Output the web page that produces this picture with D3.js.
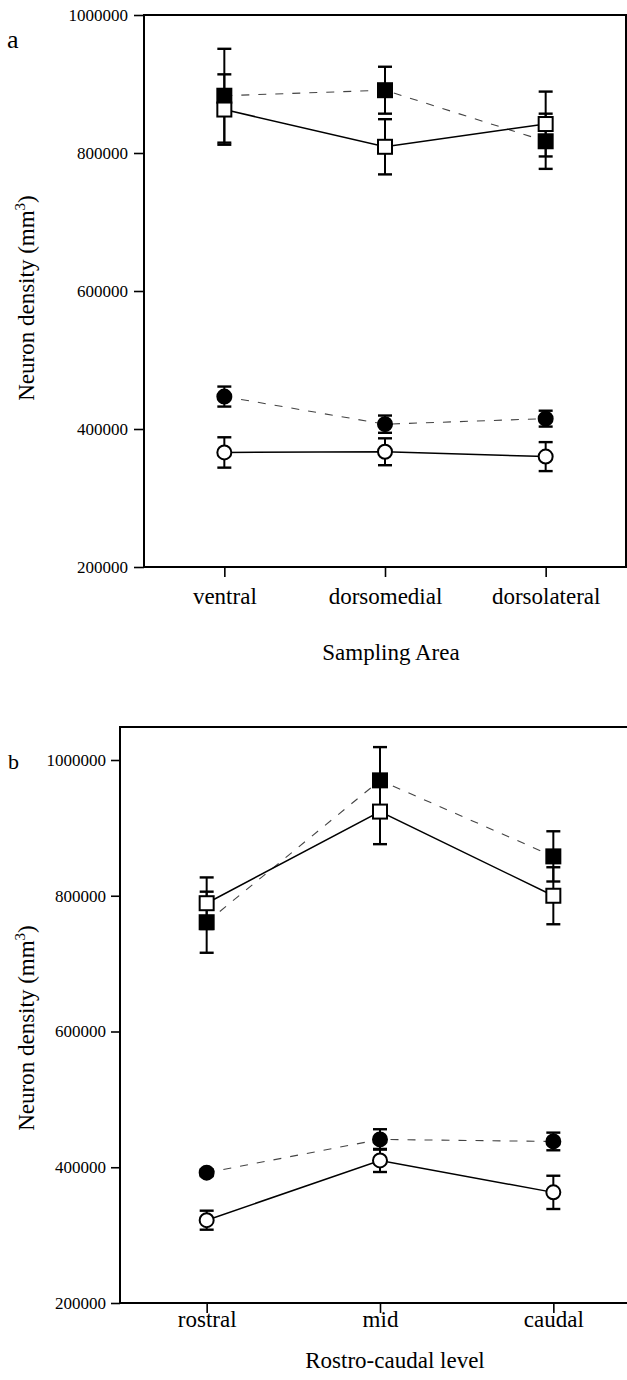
<!DOCTYPE html>
<html>
<head>
<meta charset="utf-8">
<script src="https://cdn.jsdelivr.net/npm/d3@7"></script>
<style>
  body { margin: 0; background: #fff; }
  svg { display: block; }
</style>
</head>
<body>
<div id="chart"></div>
<script>
// --- Data ---
const areas = ['ventral', 'dorsomedial', 'dorsolateral'];
const levels = ['rostral', 'mid', 'caudal'];
const yTickValues = [200000, 400000, 600000, 800000, 1000000];

// panel a: sampling area
const areaFilledSq = [883000, 891000, 817000];
const areaFilledSqErr = [68000, 34000, 40000];
const areaOpenSq = [863000, 809000, 842000];
const areaOpenSqErr = [51000, 40000, 47000];
const areaFilledCirc = [447000, 407000, 415000];
const areaFilledCircErr = [14500, 12500, 11500];
const areaOpenCirc = [366000, 367000, 360000];
const areaOpenCircErr = [22000, 19500, 21000];

// panel b: rostro-caudal level
const levelFilledSq = [761000, 970000, 858000];
const levelFilledSqErr = [45000, 49000, 37000];
const levelOpenSq = [789000, 924000, 800000];
const levelOpenSqErr = [38000, 48000, 42000];
const levelFilledCirc = [392000, 441000, 438000];
const levelFilledCircErr = [5000, 15000, 13000];
const levelOpenCirc = [322000, 410000, 363000];
const levelOpenCircErr = [14000, 17000, 24500];

const SERIF = '"Liberation Serif", "Times New Roman", serif';

const svg = d3.select('#chart').append('svg')
    .attr('width', 627)
    .attr('height', 1380);

function renderPanel(p) {
    const x = d3.scalePoint().domain(p.cats).range([p.left, p.right]).padding(0.5);
    const y = d3.scaleLinear().domain([200000, 1000000]).range([p.bottom, p.yTop]);
    const g = svg.append('g');

    // --- Frame ---
    g.append('path')
        .attr('d', `M${p.left},${p.bottom}V${p.top}H${p.right}V${p.bottom}Z`)
        .attr('fill', 'none')
        .attr('stroke', '#000')
        .attr('stroke-width', 2);

    // --- Y axis ---
    g.append('g')
        .attr('transform', `translate(${p.left},0)`)
        .call(d3.axisLeft(y).tickValues(yTickValues).tickSize(p.tickLen).tickPadding(p.tickPad).tickFormat(d3.format('d')))
        .call(a => a.select('.domain').remove())
        .call(a => a.selectAll('line').attr('stroke-width', 1.6))
        .attr('font-family', SERIF)
        .attr('font-size', 17)
        .selectAll('text').attr('fill', '#000');

    // --- X axis ---
    g.append('g')
        .attr('transform', `translate(0,${p.bottom})`)
        .call(d3.axisBottom(x).tickSize(10))
        .call(a => a.select('.domain').remove())
        .call(a => a.selectAll('line').attr('stroke-width', 1.6))
        .attr('font-family', SERIF)
        .attr('font-size', 23)
        .selectAll('text')
        .attr('fill', '#000')
        .attr('dy', null)
        .attr('y', p.catOffset);

    // --- Axis titles ---
    g.append('text')
        .attr('x', p.titleX)
        .attr('y', p.titleY)
        .attr('text-anchor', 'middle')
        .attr('font-family', SERIF)
        .attr('font-size', 23)
        .text(p.title);

    const yt = g.append('text')
        .attr('transform', `translate(34,${p.yTitleY}) rotate(-90)`)
        .attr('text-anchor', 'middle')
        .attr('font-family', SERIF)
        .attr('font-size', 23);
    yt.append('tspan').text('Neuron density (mm');
    yt.append('tspan').attr('font-size', 15).attr('dy', -9).text('3');
    yt.append('tspan').attr('dy', 9).text(')');

    // --- Panel letter ---
    g.append('text')
        .attr('x', p.letterX)
        .attr('y', p.letterY)
        .attr('font-family', SERIF)
        .attr('font-size', p.letterSize)
        .text(p.letter);

    // --- Connecting lines ---
    const line = d3.line()
        .x((d, i) => x(p.cats[i]))
        .y(d => y(d));

    p.series.forEach(s => {
        g.append('path')
            .datum(s.values)
            .attr('d', line)
            .attr('fill', 'none')
            .attr('stroke', s.filled ? '#444' : '#000')
            .attr('stroke-width', s.filled ? 1.1 : 1.5)
            .attr('stroke-dasharray', s.filled ? '8,9' : null);
    });

    // --- Error bars ---
    p.series.forEach(s => {
        s.values.forEach((v, i) => {
            const cx = x(p.cats[i]);
            const e = s.err[i];
            g.append('line')
                .attr('x1', cx).attr('x2', cx)
                .attr('y1', y(v - e)).attr('y2', y(v + e))
                .attr('stroke', '#000').attr('stroke-width', 2);
            [v - e, v + e].forEach(c => {
                g.append('line')
                    .attr('x1', cx - 7).attr('x2', cx + 7)
                    .attr('y1', y(c)).attr('y2', y(c))
                    .attr('stroke', '#000').attr('stroke-width', 2.4);
            });
        });
    });

    // --- Markers ---
    p.series.forEach(s => {
        s.values.forEach((v, i) => {
            const cx = x(p.cats[i]);
            const cy = y(v);
            if (s.shape === 'square') {
                g.append('rect')
                    .attr('x', cx - 7).attr('y', cy - 7)
                    .attr('width', 14).attr('height', 14)
                    .attr('fill', s.filled ? '#000' : '#fff')
                    .attr('stroke', '#000')
                    .attr('stroke-width', 2);
            } else {
                g.append('circle')
                    .attr('cx', cx).attr('cy', cy)
                    .attr('r', 7)
                    .attr('fill', s.filled ? '#000' : '#fff')
                    .attr('stroke', '#000')
                    .attr('stroke-width', 2);
            }
        });
    });
}

renderPanel({
    cats: areas,
    left: 144, right: 626, top: 15, yTop: 15, bottom: 567,
    tickLen: 10, tickPad: 6, catOffset: 37,
    title: 'Sampling Area', titleX: 391, titleY: 660,
    yTitleY: 298,
    letter: 'a', letterX: 7, letterY: 48, letterSize: 26,
    series: [
        { values: areaFilledSq, err: areaFilledSqErr, shape: 'square', filled: true },
        { values: areaOpenSq, err: areaOpenSqErr, shape: 'square', filled: false },
        { values: areaFilledCirc, err: areaFilledCircErr, shape: 'circle', filled: true },
        { values: areaOpenCirc, err: areaOpenCircErr, shape: 'circle', filled: false }
    ]
});

renderPanel({
    cats: levels,
    left: 120, right: 640, top: 727, yTop: 760, bottom: 1303,
    tickLen: 9, tickPad: 5, catOffset: 24,
    title: 'Rostro-caudal level', titleX: 395, titleY: 1368,
    yTitleY: 1028,
    letter: 'b', letterX: 8, letterY: 769, letterSize: 22,
    series: [
        { values: levelFilledSq, err: levelFilledSqErr, shape: 'square', filled: true },
        { values: levelOpenSq, err: levelOpenSqErr, shape: 'square', filled: false },
        { values: levelFilledCirc, err: levelFilledCircErr, shape: 'circle', filled: true },
        { values: levelOpenCirc, err: levelOpenCircErr, shape: 'circle', filled: false }
    ]
});
</script>
</body>
</html>
